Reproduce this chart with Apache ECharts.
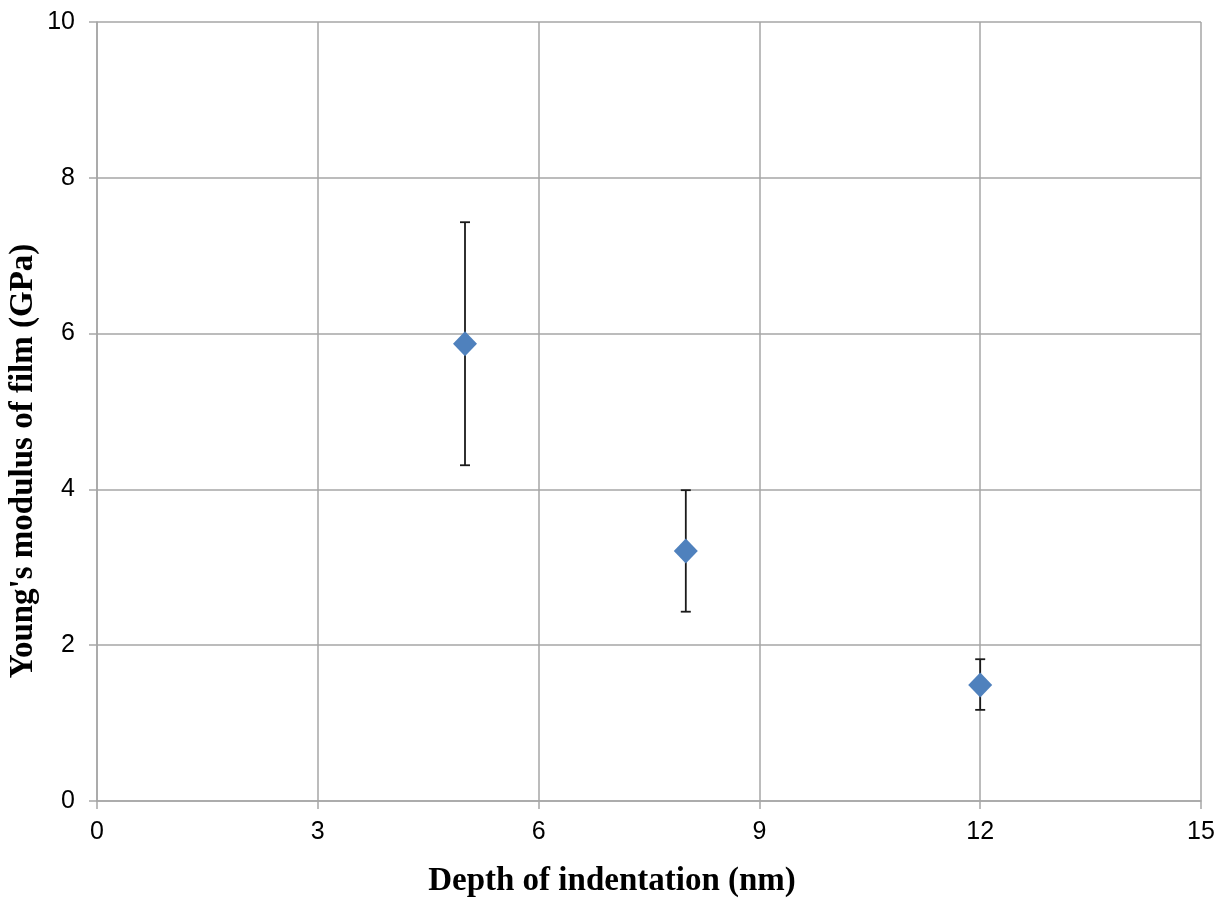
<!DOCTYPE html>
<html>
<head>
<meta charset="utf-8">
<script src="https://cdn.jsdelivr.net/npm/echarts@6/dist/echarts.min.js"></script>
<style>
  html, body { margin: 0; padding: 0; background: #fff; }
  #main { width: 1228px; height: 899px; }
</style>
</head>
<body>
<div id="main"></div>
<script>
// values
var depth = [5, 8, 12];
var modulus = [5.87, 3.21, 1.49];
var errLow = [4.31, 2.43, 1.17];
var errHigh = [7.43, 3.99, 1.82];

var xTitle = 'Depth of indentation (nm)';
var yTitle = "Young's modulus of film (GPa)";

var chart = echarts.init(document.getElementById('main'));

var points = depth.map(function (d, i) { return [d, modulus[i]]; });
var bars = depth.map(function (d, i) { return [d, errLow[i], errHigh[i]]; });

var gridColor = '#a6a6a6';
var titleFont = {
  fontFamily: 'Liberation Serif',
  fontWeight: 'bold',
  fontSize: 33,
  fill: '#000',
  align: 'center',
  verticalAlign: 'middle'
};

var option = {
  animation: false,
  grid: { left: 97, right: 27, top: 22, bottom: 98, containLabel: false, outerBoundsMode: 'none' },
  graphic: [
    { type: 'text', x: 612, y: 881, style: Object.assign({ text: xTitle }, titleFont) },
    { type: 'text', x: 23, y: 461, rotation: Math.PI / 2, style: Object.assign({ text: yTitle }, titleFont) }
  ],
  xAxis: {
    type: 'value',
    min: 0,
    max: 15,
    interval: 3,
    axisLine: { lineStyle: { color: gridColor, width: 1.5 } },
    axisTick: { show: true, length: 8, lineStyle: { color: gridColor, width: 1.5 } },
    axisLabel: { fontFamily: 'Liberation Sans', fontSize: 25, color: '#000', margin: 19 },
    splitLine: { lineStyle: { color: gridColor, width: 1.5 } }
  },
  yAxis: {
    type: 'value',
    min: 0,
    max: 10,
    interval: 2,
    axisLine: { show: true, lineStyle: { color: gridColor, width: 1.5 } },
    axisTick: { show: true, length: 8, lineStyle: { color: gridColor, width: 1.5 } },
    axisLabel: { fontFamily: 'Liberation Sans', fontSize: 25, color: '#000', margin: 22 },
    splitLine: { lineStyle: { color: gridColor, width: 1.5 } }
  },
  series: [
    {
      type: 'custom',
      data: bars,
      z: 2,
      renderItem: function (params, api) {
        var x = api.value(0);
        var lo = api.coord([x, api.value(1)]);
        var hi = api.coord([x, api.value(2)]);
        var w = 5;
        var style = { stroke: '#1a1a1a', lineWidth: 1.8 };
        return {
          type: 'group',
          children: [
            { type: 'line', shape: { x1: lo[0], y1: lo[1], x2: hi[0], y2: hi[1] }, style: style },
            { type: 'line', shape: { x1: hi[0] - w, y1: hi[1], x2: hi[0] + w, y2: hi[1] }, style: style },
            { type: 'line', shape: { x1: lo[0] - w, y1: lo[1], x2: lo[0] + w, y2: lo[1] }, style: style }
          ]
        };
      }
    },
    {
      type: 'scatter',
      data: points,
      symbol: 'diamond',
      symbolSize: [24, 25],
      z: 3,
      itemStyle: { color: '#4f81bd', opacity: 1 }
    }
  ]
};

chart.setOption(option);
</script>
</body>
</html>
